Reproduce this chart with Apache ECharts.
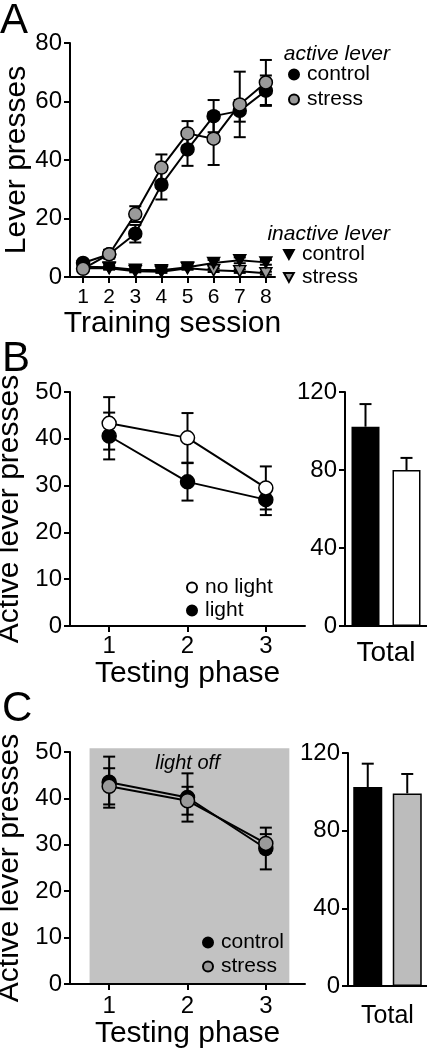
<!DOCTYPE html>
<html><head><meta charset="utf-8">
<script src="https://cdn.jsdelivr.net/npm/echarts@6/dist/echarts.min.js"></script>
<style>html,body{margin:0;padding:0;background:#fff;}#c{width:427px;height:1050px;}</style>
</head><body><div id="c"></div>
<script>
// ---------- Panel A data ----------
const sessions = [1, 2, 3, 4, 5, 6, 7, 8];
const activeControl = [4.8, 7.8, 14.8, 31.5, 43.6, 55.0, 56.8, 63.7];
const activeControlSem = [1.0, 1.2, 3.0, 5.0, 5.6, 5.5, 3.7, 5.2];
const activeStress = [2.8, 7.8, 21.5, 37.4, 49.1, 47.3, 59.0, 66.5];
const activeStressSem = [0.8, 1.5, 2.7, 4.5, 4.2, 9.0, 11.2, 7.7];
const inactiveControl = [3.5, 3.3, 2.5, 2.3, 3.3, 4.8, 5.7, 5.0];
const inactiveControlSem = [0.6, 0.5, 0.5, 0.4, 0.6, 1.0, 1.0, 0.8];
const inactiveStress = [3.0, 3.0, 2.0, 1.8, 3.0, 2.3, 2.0, 1.3];
const inactiveStressSem = [0.5, 0.5, 0.4, 0.4, 0.5, 0.6, 0.6, 0.5];

// ---------- Panel B data ----------
const phases = [1, 2, 3];
const bNoLight = [43.3, 40.2, 29.5];
const bNoLightSem = [5.6, 5.3, 4.6];
const bLight = [40.6, 30.8, 27.0];
const bLightSem = [5.0, 4.0, 3.3];
const bTotalCats = ['light', 'no light'];
const bTotals = [102.2, 80.0];
const bTotalSem = [11.6, 6.2];

// ---------- Panel C data ----------
const cControl = [43.5, 40.2, 29.2];
const cControlSem = [5.5, 5.2, 4.5];
const cStress = [42.6, 39.5, 30.3];
const cStressSem = [3.9, 3.0, 2.0];
const cTotalCats = ['control', 'stress'];
const cTotals = [102.5, 99.2];
const cTotalSem = [12.0, 10.0];
const lightOffWindow = [0.75, 3.3];
const lightOffTop = 50.8;

const FONT = 'Liberation Sans, Arial, Helvetica, sans-serif';
const GRAY = '#9a9a9a';
const TRI = 'path://M0,0 L12,0 L6,11 Z';

function pairs(xs, ys) { return xs.map((x, i) => [x, ys[i]]); }

function errSeries(xi, yi, xs, ys, sems, both, z) {
  return {
    type: 'custom', xAxisIndex: xi, yAxisIndex: yi, silent: true, z: z || 2, clip: false,
    data: xs.map((x, i) => [x, both ? ys[i] - sems[i] : ys[i], ys[i] + sems[i]]),
    renderItem(params, api) {
      const lo = api.coord([api.value(0), api.value(1)]);
      const hi = api.coord([api.value(0), api.value(2)]);
      const w = 6;
      const st = { stroke: '#000', lineWidth: 2 };
      const ch = [
        { type: 'line', shape: { x1: lo[0], y1: lo[1], x2: hi[0], y2: hi[1] }, style: st },
        { type: 'line', shape: { x1: hi[0] - w, y1: hi[1], x2: hi[0] + w, y2: hi[1] }, style: st }
      ];
      if (both) ch.push({ type: 'line', shape: { x1: lo[0] - w, y1: lo[1], x2: lo[0] + w, y2: lo[1] }, style: st });
      return { type: 'group', children: ch };
    }
  };
}

function lineSeries(name, xi, yi, xs, ys, fill, symbol, size, z) {
  return {
    name, type: 'line', xAxisIndex: xi, yAxisIndex: yi, z: z || 3, clip: false,
    data: pairs(xs, ys), symbol, symbolSize: size, showSymbol: true,
    lineStyle: { color: '#000', width: 2 },
    itemStyle: { color: fill, borderColor: '#000', borderWidth: 1.5 },
    emphasis: { disabled: true }, animation: false
  };
}

const axisLineStyle = { show: true, lineStyle: { color: '#000', width: 2 } };
const tickStyle = { show: true, length: 6, lineStyle: { color: '#000', width: 2 } };

function valX(gi, min, max, ticks, fs, margin, name, nameGap) {
  return {
    type: 'value', gridIndex: gi, min, max,
    axisLine: axisLineStyle,
    axisTick: Object.assign({ customValues: ticks }, tickStyle),
    axisLabel: { customValues: ticks, fontSize: fs, color: '#000', fontFamily: FONT, margin },
    splitLine: { show: false },
    name, nameLocation: 'middle', nameGap,
    nameTextStyle: { fontSize: 30, color: '#000', fontFamily: FONT }
  };
}
function valY(gi, max, interval, fs, name, nameGap) {
  return {
    type: 'value', gridIndex: gi, min: 0, max, interval,
    axisLine: axisLineStyle, axisTick: tickStyle,
    axisLabel: { fontSize: fs, color: '#000', fontFamily: FONT, margin: 8 },
    splitLine: { show: false },
    name, nameLocation: 'middle', nameGap,
    nameTextStyle: { fontSize: 30, color: '#000', fontFamily: FONT }
  };
}
function catX(gi, cats, showLine, label, fs, margin) {
  return {
    type: 'category', gridIndex: gi, data: cats, position: 'bottom',
    axisLine: showLine ? axisLineStyle : { show: false },
    axisTick: { show: false },
    axisLabel: label ? { fontSize: fs, color: '#000', fontFamily: FONT, margin } : { show: false },
    splitLine: { show: false }
  };
}
function grid(left, top, width, height) {
  return { left, top, width, height, containLabel: false, outerBoundsMode: 'none' };
}
function legend(left, top, gap, icon, names, ih) {
  return {
    left, top, padding: 0, orient: 'vertical', itemWidth: 10, itemHeight: ih || 10, itemGap: gap,
    selectedMode: false,
    textStyle: { fontSize: 21, color: '#000', fontFamily: FONT, padding: [0, 0, 0, 3] },
    data: names.map(n => ({ name: n, icon }))
  };
}

const option = {
  animation: false,
  backgroundColor: '#fff',
  textStyle: { fontFamily: FONT },
  grid: [
    grid(70, 43, 205, 234),   // A
    grid(70, 392, 235, 234),  // B line
    grid(345, 392, 82, 234),  // B bar
    grid(70, 752, 235, 232),  // C line
    grid(348, 753, 79, 233)   // C bar
  ],
  xAxis: [
    valX(0, 0.5, 8.35, sessions, 21, 10, 'Training session', 31),
    valX(1, 0.5, 3.5, phases, 24, 8, 'Testing phase', 29),
    catX(2, bTotalCats, true, false),
    valX(3, 0.5, 3.5, phases, 24, 10, 'Testing phase', 24),
    catX(4, cTotalCats, true, false),
    catX(2, ['Total'], false, true, 28, 13),
    catX(4, ['Total'], false, true, 25, 18)
  ],
  yAxis: [
    valY(0, 80, 20, 24, 'Lever presses', 36),
    valY(1, 50, 10, 24, 'Active lever presses', 36),
    valY(2, 120, 40, 24),
    valY(3, 50, 10, 24, 'Active lever presses', 36),
    valY(4, 120, 40, 24)
  ],
  legend: [
    legend(288, 64, 4, 'circle', ['control', 'stress']),
    legend(283, 244, 2, TRI, ['control', 'stress'], 9),
    legend(186, 577, 2, 'circle', ['no light', 'light']),
    legend(202, 932, 3, 'circle', ['control', 'stress'])
  ],
  graphic: [
    { type: 'text', left: 0, top: 0, style: { text: 'A', fontSize: 42, fontFamily: FONT, fill: '#000' } },
    { type: 'text', left: 2, top: 338, style: { text: 'B', fontSize: 42, fontFamily: FONT, fill: '#000' } },
    { type: 'text', left: 2, top: 688, style: { text: 'C', fontSize: 42, fontFamily: FONT, fill: '#000' } },
    { type: 'text', right: 37, top: 44, style: { text: 'active lever', fontSize: 21, fontStyle: 'italic', fontFamily: FONT, fill: '#000' } },
    { type: 'text', right: 37, top: 224, style: { text: 'inactive lever', fontSize: 21, fontStyle: 'italic', fontFamily: FONT, fill: '#000' } }
  ],
  series: [
    // ---- C background (light off window) ----
    { type: 'custom', xAxisIndex: 3, yAxisIndex: 3, silent: true, z: 0, clip: false,
      data: [[lightOffWindow[0], lightOffWindow[1], lightOffTop]],
      renderItem(params, api) {
        const p0 = api.coord([api.value(0), 0]);
        const p1 = api.coord([api.value(1), api.value(2)]);
        return { type: 'group', children: [
          { type: 'rect', shape: { x: p0[0], y: p1[1], width: p1[0] - p0[0], height: p0[1] - p1[1] }, style: { fill: '#c2c2c2' } },
          { type: 'text', x: (p0[0] + p1[0]) / 2 - 2, y: p1[1] + 15,
            style: { text: 'light off', fontSize: 20, fontStyle: 'italic', fontFamily: FONT, fill: '#000', align: 'center', verticalAlign: 'middle' } }
        ] };
      } },
    // ---- A ----
    errSeries(0, 0, sessions, inactiveStress, inactiveStressSem, true),
    errSeries(0, 0, sessions, inactiveControl, inactiveControlSem, true),
    errSeries(0, 0, sessions, activeControl, activeControlSem, true),
    errSeries(0, 0, sessions, activeStress, activeStressSem, true),
    lineSeries('stress', 0, 0, sessions, inactiveStress, GRAY, TRI, [12, 11], 3),
    lineSeries('control', 0, 0, sessions, inactiveControl, '#000', TRI, [12, 11], 4),
    lineSeries('control', 0, 0, sessions, activeControl, '#000', 'circle', 13, 5),
    lineSeries('stress', 0, 0, sessions, activeStress, GRAY, 'circle', 13, 6),
    // ---- B line ----
    errSeries(1, 1, phases, bLight, bLightSem, true),
    errSeries(1, 1, phases, bNoLight, bNoLightSem, true),
    lineSeries('light', 1, 1, phases, bLight, '#000', 'circle', 14, 4),
    lineSeries('no light', 1, 1, phases, bNoLight, '#fff', 'circle', 14, 5),
    // ---- B bar ----
    { type: 'bar', xAxisIndex: 2, yAxisIndex: 2, barWidth: 28, z: 3,
      data: bTotals.map((v, i) => ({ value: v, itemStyle: { color: i === 0 ? '#000' : '#fff' } })),
      itemStyle: { borderColor: '#000', borderWidth: 1.5 } },
    errSeries(2, 2, bTotalCats, bTotals, bTotalSem, false, 2),
    // ---- C line ----
    errSeries(3, 3, phases, cControl, cControlSem, true),
    errSeries(3, 3, phases, cStress, cStressSem, true),
    lineSeries('control', 3, 3, phases, cControl, '#000', 'circle', 14, 4),
    lineSeries('stress', 3, 3, phases, cStress, GRAY, 'circle', 14, 5),
    // ---- C bar ----
    { type: 'bar', xAxisIndex: 4, yAxisIndex: 4, barWidth: 29, z: 3,
      data: cTotals.map((v, i) => ({ value: v, itemStyle: { color: i === 0 ? '#000' : '#bcbcbc' } })),
      itemStyle: { borderColor: '#000', borderWidth: 1.5 } },
    errSeries(4, 4, cTotalCats, cTotals, cTotalSem, false, 2)
  ]
};

const chart = echarts.init(document.getElementById('c'), null, { renderer: 'canvas', width: 427, height: 1050 });
chart.setOption(option);
</script></body></html>
